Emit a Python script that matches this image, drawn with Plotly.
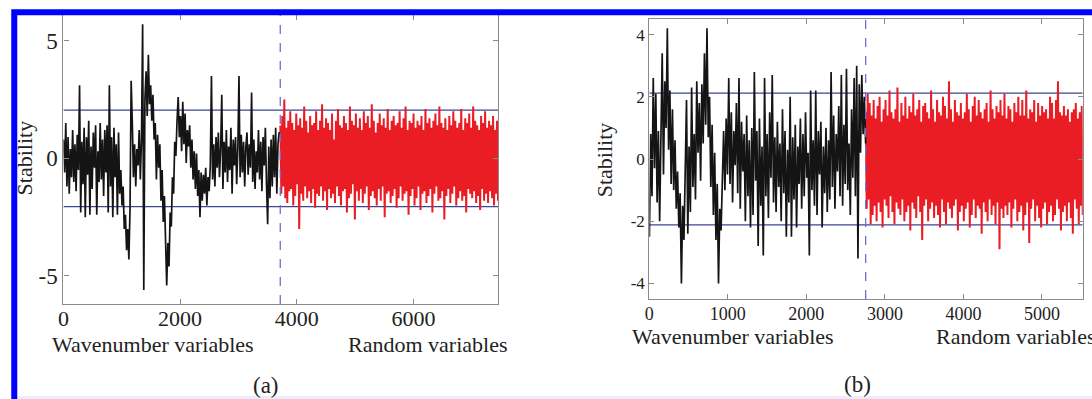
import numpy as np
import plotly.graph_objects as go

# ---------------- data ----------------
N_WAVE_A, N_TOTAL_A = 3717, 7450
N_WAVE_B, N_TOTAL_B = 2755, 5520
THRESH_A = 2.05
THRESH_B = 2.12

wave_a = [
    0.8, -0.6, 1.5, -1.2, 0.9, -1.5, 0.4, -0.8, 1.2, -1.0,
    0.6, -1.4, 1.0, -0.5, 3.1, -2.3, 0.7, -1.1, 1.3, -2.5,
    0.9, -0.7, 1.6, -2.4, 0.5, -1.3, 1.1, -0.4, 1.4, -2.4,
    0.3, -1.0, 1.5, -0.9, 0.8, -1.6, 1.2, -0.6, 1.4, -2.3,
    3.1, -1.2, 0.9, -2.5, 1.3, -0.8, 0.6, -2.4, 1.1, -1.5,
    -0.5, -2.0, -1.2, -3.0, -2.4, -3.9, -3.0, -4.3, -2.2, 3.3,
    1.5, -0.8, 0.6, -1.2, 0.4, -0.3, 1.2, -0.9, 0.8, 5.7,
    -5.6, 2.5, 3.7, 1.8, 4.4, 2.3, 3.1, 1.6, 2.7, 0.8,
    1.5, -0.9, 1.0, -0.4, 0.6, -1.8, -0.5, -2.7, -1.6, -4.0,
    -5.4, -3.6, -4.6, -2.3, -2.9, -0.8, -1.5, 0.7, 0.1, 1.6,
    2.6, 0.9, 1.8, 0.3, 2.4, 0.6, 1.9, -0.2, 1.2, 0.5,
    1.4, -0.4, 0.8, -0.9, 0.3, -1.3, 0.2, -1.6, -0.5, -2.5,
    -0.6, -1.8, -0.7, -1.5, -0.4, -2.0, -0.8, -1.4, -0.3, 3.5,
    -0.9, 0.6, -1.2, 0.9, -0.4, 1.1, -0.8, 0.4, 2.7, -1.3,
    0.7, -0.6, 1.2, -1.0, 0.5, -0.5, 1.3, -1.5, 0.8, -0.3,
    0.9, -1.1, 0.4, 3.5, -0.8, 1.0, -0.6, 0.7, -1.2, 0.5,
    1.1, -0.7, 0.6, -0.4, 2.8, -1.0, 0.8, -1.3, 0.3, -0.6,
    1.2, -0.9, 0.7, -1.4, 0.9, -0.3, 1.3, -1.1, -2.8, 0.5,
    -1.7, 0.8, -1.2, 1.0, -0.8, 1.3, -1.5, 0.6, 1.1, 1.0,
]

rand_a = [
    1.4, -1.5, 1.8, -1.2, 2.5, -1.7, 1.3, -1.9, 1.6, -1.4,
    2.0, -1.3, 1.5, -2.0, 1.2, -1.6, 1.9, -1.1, 1.4, -3.0,
    1.7, -1.5, 1.3, -1.8, 2.2, -1.2, 1.6, -1.7, 1.1, -1.4,
    1.8, -1.9, 1.4, -1.3, 1.5, -2.1, 2.0, -1.5, 1.2, -1.6,
    1.6, -1.2, 2.3, -1.8, 1.3, -1.4, 1.7, -2.2, 1.5, -1.3,
    1.2, -1.7, 1.9, -1.5, 0.8, -1.9, 1.6, -1.2, 2.1, -1.6,
    1.4, -2.0, 1.3, -1.4, 1.8, -1.3, 1.5, -2.3, 1.2, -1.7,
    2.2, -1.5, 1.6, -1.1, 1.4, -2.6, 1.9, -1.4, 1.3, -1.8,
    1.7, -1.3, 1.2, -1.9, 2.0, -1.5, 1.5, -1.2, 1.8, -2.2,
    1.3, -1.6, 2.3, -1.4, 1.6, -1.7, 1.1, -2.0, 1.5, -1.3,
    1.9, -1.8, 1.4, -1.2, 1.7, -2.5, 1.3, -1.5, 2.1, -1.4,
    1.2, -1.9, 1.6, -1.6, 1.8, -1.3, 1.4, -2.1, 1.5, -1.7,
    2.0, -1.2, 1.3, -1.8, 1.7, -1.5, 2.2, -1.4, 1.2, -2.4,
    1.6, -1.6, 1.5, -1.3, 1.9, -2.0, 1.3, -1.7, 1.6, -1.2,
    1.4, -2.2, 1.8, -1.5, 1.2, -1.4, 2.1, -1.9, 1.5, -1.6,
    1.7, -1.3, 1.3, -2.3, 1.6, -1.5, 1.9, -1.2, 1.4, -1.8,
    2.2, -1.7, 1.5, -1.4, 1.3, -2.6, 1.7, -1.6, 1.2, -1.3,
    1.8, -1.9, 1.4, -1.5, 2.0, -1.2, 1.6, -2.0, 1.3, -1.7,
    1.5, -1.4, 2.1, -1.8, 1.2, -1.6, 1.7, -2.3, 1.5, -1.3,
    1.9, -1.5, 1.3, -1.7, 2.2, -1.4, 1.6, -1.9, 1.4, -1.6,
    1.2, -2.2, 1.8, -1.3, 1.5, -1.8, 2.0, -1.5, 1.3, -1.9,
    1.6, -1.4, 1.4, -1.7, 1.8, -2.0, 1.2, -1.5, 1.6, -1.8,
]

wave_b = [
    -2.5, 0.8, -1.2, 2.6, -0.3, 2.1, -1.4, 0.9, -2.0, 1.5,
    3.4, -0.5, 2.5, 1.0, 4.2, 0.3, 2.2, -0.8, 1.6, -1.0,
    0.6, -1.6, -0.4, -2.2, -1.1, -4.0, -1.5, -2.6, -0.6, 1.9,
    -2.4, 0.4, -1.7, 2.3, -0.9, 0.8, -1.3, 2.5, 0.2, 1.8,
    -0.7, 2.4, 0.5, 3.4, 1.1, 4.2, 0.7, 2.0, -0.9, 1.1,
    -1.8, 0.2, -2.6, -0.8, -4.0, -1.6, -2.3, -0.4, 0.9, -1.0,
    1.3, -0.5, 2.6, -0.8, 1.5, -1.4, 0.9, -0.2, 1.8, -1.1,
    2.6, -1.6, 1.2, -0.4, 0.8, -2.0, 1.4, -1.2, 0.6, -2.2,
    1.0, -1.8, 2.8, -0.7, 0.9, -2.8, 1.3, -1.5, 0.4, -3.1,
    2.6, -1.2, 0.8, -1.9, 1.5, -0.6, 2.7, -1.4, 0.7, -1.7,
    1.2, -0.9, 0.5, -2.0, 1.6, -1.1, 0.9, -2.5, 0.3, -1.4,
    2.0, -2.5, 0.7, -1.3, 1.1, -2.2, 0.4, -0.8, 1.3, -1.6,
    0.8, -1.2, 1.5, -0.6, 0.2, -3.1, 2.2, -1.0, 0.6, -1.5,
    2.2, -1.8, 0.9, -0.5, 1.2, -2.2, 0.4, -1.1, 1.0, -1.7,
    0.6, -1.3, 2.8, -0.9, 1.4, -1.6, 0.8, -0.4, 1.7, -1.2,
    2.7, -1.5, 1.1, -0.8, 2.9, -1.0, 0.5, -1.8, 1.6, -0.6,
    2.6, -1.2, 3.0, -3.2, 2.4, 0.2, 2.7, 0.8, 2.0, 0.5,
]

rand_b = [
    1.5, -1.6, 2.1, -1.3, 1.8, -2.1, 1.4, -1.8, 1.9, -1.5,
    1.3, -2.0, 1.7, -1.4, 2.0, -1.7, 1.2, -2.2, 1.6, -1.3,
    1.9, -1.5, 1.4, -1.9, 2.2, -1.2, 1.5, -1.7, 1.3, -2.1,
    1.6, -1.4, 2.3, -1.6, 1.2, -1.8, 1.8, -1.3, 1.4, -2.0,
    2.0, -1.7, 1.3, -1.5, 1.7, -2.3, 1.5, -1.4, 2.1, -1.6,
    1.4, -1.9, 1.6, -1.2, 1.9, -1.7, 1.2, -2.6, 1.7, -1.5,
    1.8, -1.3, 1.5, -2.0, 1.3, -1.6, 2.2, -1.4, 1.6, -1.9,
    1.2, -1.5, 1.9, -1.8, 1.5, -2.2, 1.4, -1.3, 2.0, -1.7,
    1.7, -2.1, 1.3, -1.4, 2.5, -1.6, 1.6, -1.9, 1.2, -1.5,
    1.9, -1.3, 1.5, -2.3, 1.4, -1.7, 1.8, -1.5, 1.3, -2.0,
    1.5, -1.6, 2.1, -1.4, 1.6, -2.2, 1.2, -1.8, 1.7, -1.3,
    2.0, -1.9, 1.4, -1.5, 1.9, -1.6, 1.5, -2.4, 1.3, -1.4,
    1.6, -1.7, 1.8, -2.0, 1.2, -1.3, 2.2, -1.8, 1.6, -1.5,
    1.3, -2.1, 1.7, -1.4, 1.5, -2.9, 1.9, -1.6, 1.4, -1.9,
    2.1, -1.5, 1.3, -1.8, 1.7, -1.4, 1.6, -2.2, 1.2, -1.6,
    1.8, -1.3, 1.5, -2.0, 2.0, -1.7, 1.4, -1.5, 1.9, -2.3,
    1.4, -1.8, 2.2, -1.4, 1.3, -2.7, 1.6, -1.6, 1.5, -1.3,
    1.9, -2.0, 1.2, -1.5, 1.8, -1.9, 1.4, -2.2, 1.7, -1.6,
    1.5, -1.4, 1.6, -2.1, 1.3, -1.7, 2.0, -1.5, 1.8, -2.0,
    1.3, -1.8, 1.9, -1.3, 2.5, -1.6, 1.5, -2.3, 1.4, -1.7,
    1.7, -1.5, 1.4, -2.0, 1.6, -1.4, 1.2, -1.9, 1.5, -2.4,
    1.6, -1.3, 1.8, -1.6, 1.3, -2.1, 1.5, -1.5, 1.7, -1.8,
]

xticks_a = [0, 2000, 4000, 6000]
yticks_a = [-5, 0, 5]
xticks_b = [0, 1000, 2000, 3000, 4000, 5000]
yticks_b = [-4, -2, 0, 2, 4]
YRANGE_A = [-6.19, 6.09]
YRANGE_B = [-4.5, 4.5]

# ---------------- figure ----------------
W, H = 1092, 399
def px(x):
    return x / W
def py(y):
    return 1 - y / H

BLACK = "#141414"
RED = "#ea1c24"
NAVY = "#3c4592"
DASH = "#6a72cc"
AXC = "#8a8a8a"
TXT = "#222222"
FONT = "Liberation Serif, Times New Roman, serif"

fig = go.Figure()

def add_panel(wave, rand, n_wave, n_total, thr, yr, xa, ya):
    xw = np.linspace(1, n_wave, len(wave))
    xr = np.linspace(n_wave + 1, n_total, len(rand))
    for s in (1, -1):
        fig.add_trace(go.Scatter(x=[0, n_total], y=[s * thr, s * thr], mode="lines",
                                 line=dict(color=NAVY, width=1.2), xaxis=xa, yaxis=ya,
                                 hoverinfo="skip"))
    fig.add_trace(go.Scatter(x=xr, y=rand, mode="lines",
                             line=dict(color=RED, width=2.0), xaxis=xa, yaxis=ya))
    fig.add_trace(go.Scatter(x=xw, y=wave, mode="lines",
                             line=dict(color=BLACK, width=1.7), xaxis=xa, yaxis=ya))
    fig.add_trace(go.Scatter(x=[n_wave, n_wave], y=yr, mode="lines",
                             line=dict(color=DASH, width=1.3, dash="dash"), xaxis=xa, yaxis=ya,
                             hoverinfo="skip"))

add_panel(wave_a, rand_a, N_WAVE_A, N_TOTAL_A, THRESH_A, YRANGE_A, "x", "y")
add_panel(wave_b, rand_b, N_WAVE_B, N_TOTAL_B, THRESH_B, YRANGE_B, "x2", "y2")

def axis(size, **kw):
    d = dict(showgrid=False, zeroline=False, showline=True, linecolor=AXC, linewidth=1.2,
             ticks="inside", ticklen=5, tickcolor=AXC, mirror="allticks",
             tickfont=dict(family=FONT, size=size, color=TXT))
    d.update(kw)
    return d

def fmt(vals):
    return [str(v) for v in vals]

fig.update_layout(
    width=W, height=H, autosize=False,
    margin=dict(l=0, r=0, t=0, b=0),
    paper_bgcolor="white", plot_bgcolor="white",
    showlegend=False,
    xaxis=axis(22, domain=[px(58.7), px(495.3)], range=[0, N_TOTAL_A], tickvals=xticks_a,
               ticktext=fmt(xticks_a), anchor="y", ticklabelstandoff=-6),
    yaxis=axis(23, domain=[py(304), py(15)], range=YRANGE_A, tickvals=yticks_a,
               ticktext=fmt(yticks_a), anchor="x"),
    xaxis2=axis(18, domain=[px(647.3), px(1082.7)], range=[0, N_TOTAL_B], tickvals=xticks_b,
                ticktext=fmt(xticks_b), anchor="y2", ticklabelstandoff=-2),
    yaxis2=axis(17, domain=[py(299), py(19)], range=YRANGE_B, tickvals=yticks_b,
                ticktext=fmt(yticks_b), anchor="x2"),
)

def label(text, x, y, size=22, angle=0, xanchor="center"):
    fig.add_annotation(text=text, x=px(x), y=py(y), xref="paper", yref="paper",
                       showarrow=False, textangle=angle, xanchor=xanchor, yanchor="middle",
                       font=dict(family=FONT, size=size, color=TXT))

label("Wavenumber variables", 149, 344)
label("Random variables", 424, 344)
label("Stability", 19.5, 158, angle=-90)
label("(a)", 262, 385, size=23)
label("Wavenumber variables", 731, 336)
label("Random variables", 933, 336, xanchor="left")
label("Stability", 602, 160, angle=-90)
label("(b)", 856, 384, size=23)

# blue frame
fig.add_shape(type="rect", xref="paper", yref="paper",
              x0=px(9.3), x1=px(1110), y0=py(12.2), y1=py(420),
              line=dict(color="#0000ff", width=6), fillcolor="rgba(0,0,0,0)", layer="above")
fig.add_shape(type="rect", xref="paper", yref="paper",
              x0=px(12), x1=px(1100), y0=py(396), y1=py(400),
              line=dict(width=0), fillcolor="#ececfb", layer="below")

fig.write_html("out.html",
               config={"displayModeBar": False},
               post_script="document.body.style.margin='0px';document.body.style.overflow='hidden';")
